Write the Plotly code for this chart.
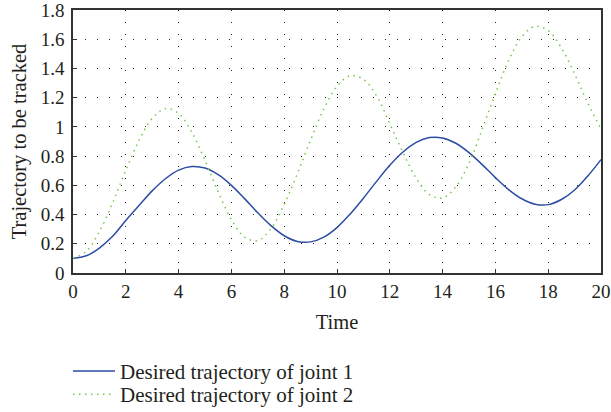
import plotly.graph_objects as go

time = [0.0, 0.5, 1.0, 1.5, 2.0, 2.5, 3.0, 3.5, 4.0, 4.5, 5.0, 5.5, 6.0, 6.5, 7.0, 7.5,
        8.0, 8.5, 9.0, 9.5, 10.0, 10.5, 11.0, 11.5, 12.0, 12.5, 13.0, 13.5, 14.0, 14.5,
        15.0, 15.5, 16.0, 16.5, 17.0, 17.5, 18.0, 18.5, 19.0, 19.5, 20.0]

joint1 = [0.100, 0.118, 0.171, 0.251, 0.360, 0.462, 0.562, 0.645, 0.704, 0.729, 0.718,
          0.673, 0.600, 0.509, 0.412, 0.324, 0.255, 0.216, 0.213, 0.246, 0.311, 0.404,
          0.512, 0.627, 0.737, 0.828, 0.894, 0.927, 0.924, 0.888, 0.824, 0.742, 0.653,
          0.571, 0.508, 0.471, 0.468, 0.503, 0.568, 0.664, 0.776]

joint2 = [0.100, 0.148, 0.283, 0.480, 0.703, 0.908, 1.058, 1.125, 1.093, 0.963, 0.770,
          0.555, 0.365, 0.245, 0.222, 0.305, 0.470, 0.680, 0.910, 1.122, 1.278, 1.350,
          1.326, 1.212, 1.020, 0.825, 0.648, 0.536, 0.513, 0.590, 0.750, 0.984, 1.228,
          1.454, 1.616, 1.688, 1.659, 1.541, 1.362, 1.163, 0.985]

series_names = ["Desired trajectory of joint 1", "Desired trajectory of joint 2"]
x_ticks = [0, 2, 4, 6, 8, 10, 12, 14, 16, 18, 20]
y_ticks = [0, 0.2, 0.4, 0.6, 0.8, 1.0, 1.2, 1.4, 1.6, 1.8]
y_tick_text = ["0", "0.2", "0.4", "0.6", "0.8", "1", "1.2", "1.4", "1.6", "1.8"]

FONT = "Liberation Serif, Times New Roman, DejaVu Serif, serif"
TXT = "#231f20"

fig = go.Figure()
fig.add_trace(go.Scatter(x=time, y=joint1, mode="lines", name=series_names[0], legend="legend",
                         line=dict(color="#2c4da3", width=1.5, shape="spline")))
fig.add_trace(go.Scatter(x=time, y=joint2, mode="lines", name=series_names[1], legend="legend2",
                         line=dict(color="#72c850", width=1.5, dash="1.5px,4.5px", shape="spline")))

axis_common = dict(
    showgrid=True, gridcolor="#222", gridwidth=1, griddash="1px,11px",
    showline=True, linecolor="#333", linewidth=1.5, mirror=True,
    ticks="inside", ticklen=4, tickcolor="#333", tickwidth=1,
    zeroline=False, automargin=False, ticklabeloverflow="allow",
    tickfont=dict(family=FONT, size=19, color=TXT),
)

legend_common = dict(xanchor="left", yanchor="middle",
                     font=dict(family=FONT, size=21, color=TXT),
                     bgcolor="rgba(0,0,0,0)", itemwidth=42, tracegroupgap=0)

fig.update_layout(
    width=611, height=412,
    margin=dict(l=73, r=10, t=10, b=139, autoexpand=False),
    paper_bgcolor="white", plot_bgcolor="white",
    font=dict(family=FONT, size=19, color=TXT),
    xaxis=dict(range=[0, 20], tickvals=x_ticks,
               title=dict(text="Time", font=dict(family=FONT, size=20.5, color=TXT), standoff=14),
               **axis_common),
    yaxis=dict(range=[0, 1.8], tickvals=y_ticks, ticktext=y_tick_text, ticklabelstandoff=3,
               title=dict(text="Trajectory to be tracked", font=dict(family=FONT, size=20.5, color=TXT), standoff=9),
               **axis_common),
    legend=dict(x=-0.0095, y=-0.374, **legend_common),
    legend2=dict(x=-0.0095, y=-0.462, **legend_common),
    showlegend=True,
)

fig.write_html("out.html")
